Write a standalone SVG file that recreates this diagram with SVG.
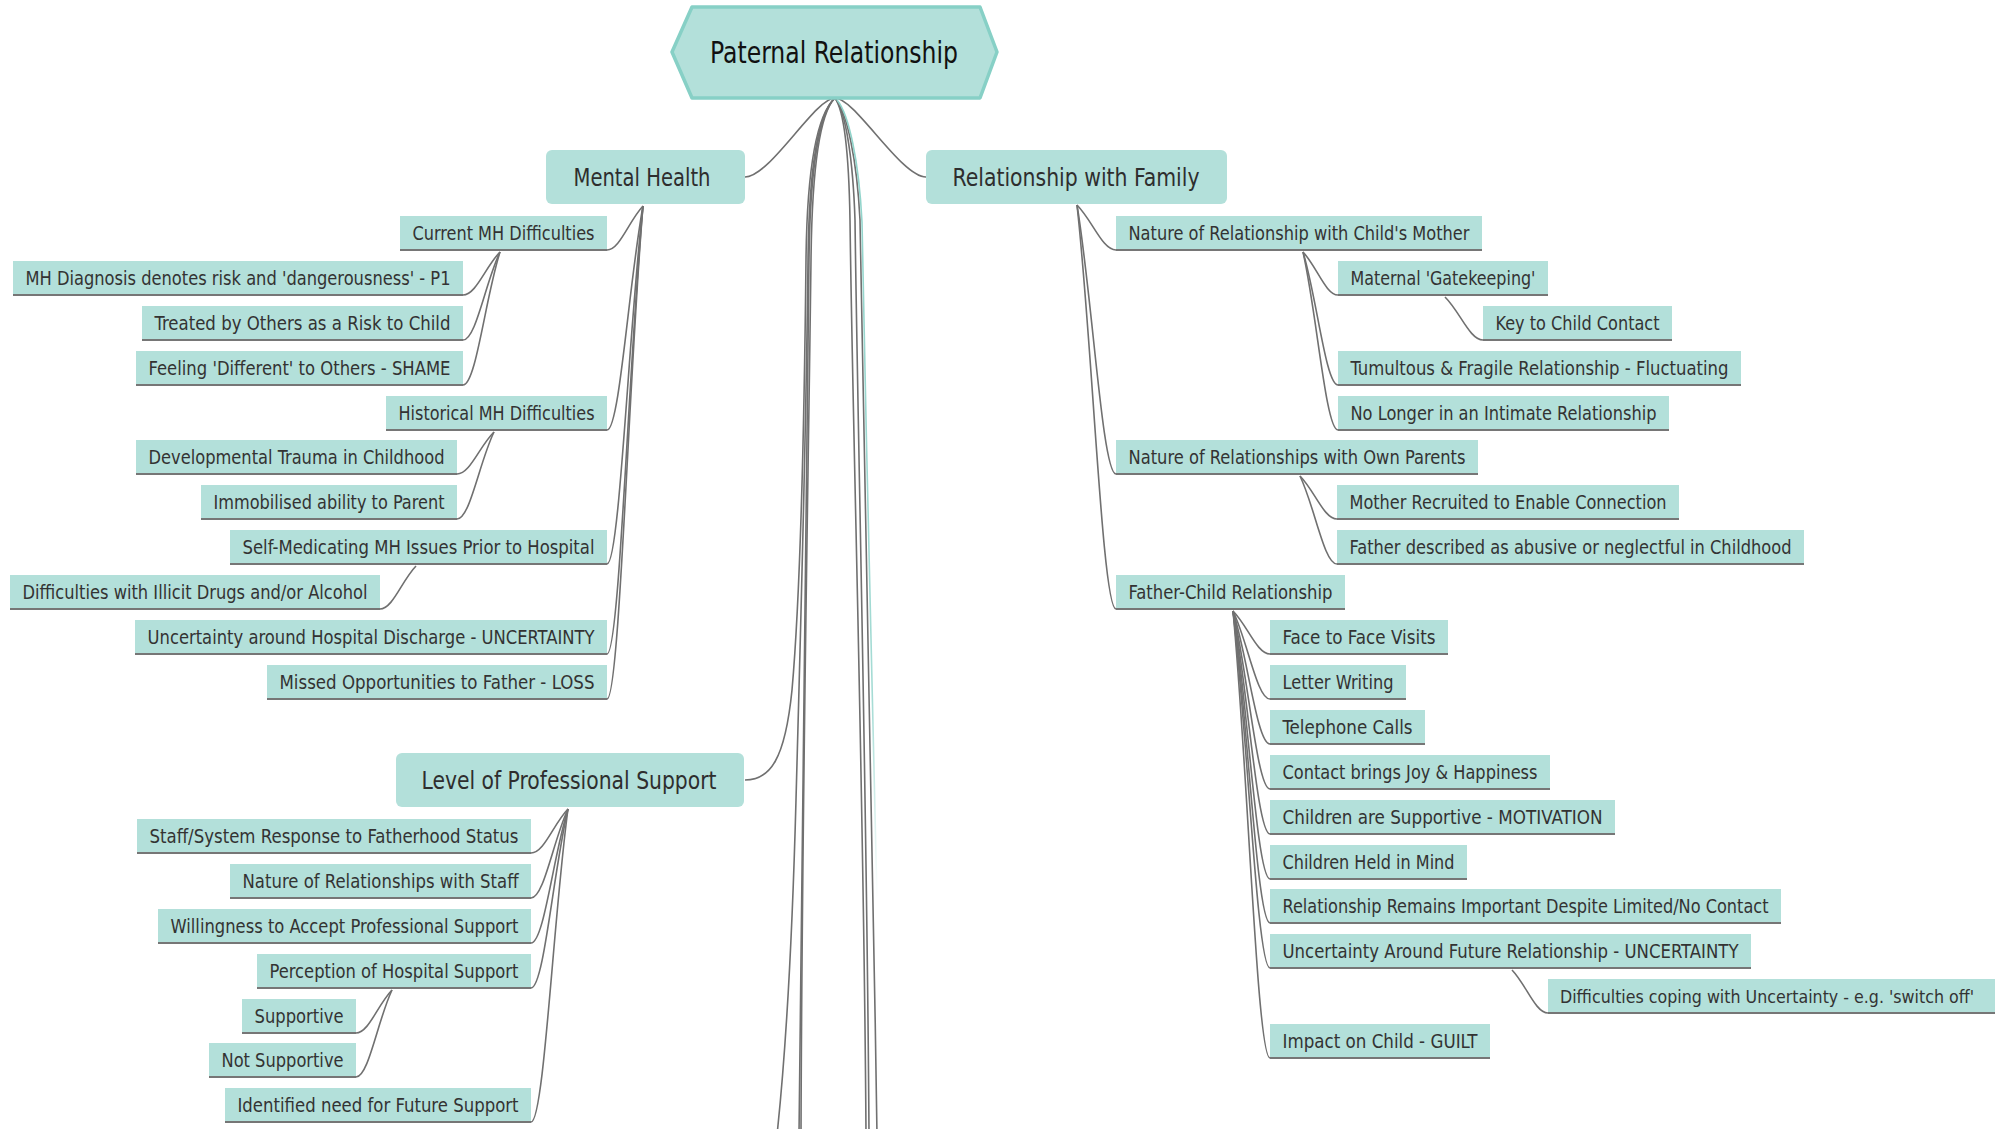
<svg xmlns="http://www.w3.org/2000/svg" width="1995" height="1129" viewBox="0 0 1995 1129">
<defs>
<style>
.bx{fill:#b3e0da}
.ul{stroke:#767676;stroke-width:2}
.t{font-family:"DejaVu Sans Condensed","DejaVu Sans",sans-serif;font-size:19px;fill:#333333;text-anchor:middle}
.t1{font-family:"DejaVu Sans Condensed","DejaVu Sans",sans-serif;font-size:25px;fill:#2e2e2e;text-anchor:middle}
.t0{font-family:"DejaVu Sans Condensed","DejaVu Sans",sans-serif;font-size:30px;fill:#111111;text-anchor:middle}
#connectors path{fill:none;stroke:#707070;stroke-width:1.6}
</style>
<linearGradient id="tealfade" gradientUnits="userSpaceOnUse" x1="0" y1="100" x2="0" y2="900">
<stop offset="0" stop-color="#8fd3ca" stop-opacity="1"/>
<stop offset="0.75" stop-color="#8fd3ca" stop-opacity="0.8"/>
<stop offset="1" stop-color="#8fd3ca" stop-opacity="0"/>
</linearGradient>
</defs>
<rect width="1995" height="1129" fill="#ffffff"/>

<g id="connectors">
<!-- root to first level -->
<path d="M835,98 C815,98 770,177 745,177"/>
<path d="M835,98 C855,98 901,177 926,177"/>
<path d="M835,98 C816,115 807,170 806,260 C804,450 800,600 792,690 C785,760 770,780 745,780"/>
<!-- bundle continuing off the bottom -->
<path d="M835,98 C818,113 809,170 808,260 C806,450 800,650 796,800 C792,950 785,1060 777,1135"/>
<path d="M835,98 C819,113 810,170 809,260 C806,500 801,800 799,1135"/>
<path d="M835,98 C820,113 812,170 811,260 C808,500 802,800 801,1135"/>
<path d="M835,98 C845,112 849,160 850,220 C853,450 864,800 866,1135"/>
<path d="M835,98 C846,112 853,160 855,220 C858,450 867,800 869,1135"/>
<path d="M835,98 C847,112 857,160 860,220 C864,450 872,800 877,1135"/>
<path d="M837,100 C849,114 859,162 862,222 C866,450 873,700 877,900" style="stroke:url(#tealfade);stroke-width:1.6"/>
<!-- Mental Health children -->
<path d="M643,206 C628.6,221.4 619.6,250 607,250"/>
<path d="M643,206 C628.6,284.4 619.6,430 607,430"/>
<path d="M643,206 C628.6,331.3 619.6,564 607,564"/>
<path d="M643,206 C628.6,362.8 619.6,654 607,654"/>
<path d="M643,206 C628.6,378.6 619.6,699 607,699"/>
<!-- Current MH children -->
<path d="M500,252 C485.2,267.1 476,295 463,295"/>
<path d="M500,252 C485.2,282.8 476,340 463,340"/>
<path d="M500,252 C485.2,298.6 476,385 463,385"/>
<!-- Historical MH children -->
<path d="M494,432 C479.2,446.7 470,474 457,474"/>
<path d="M494,432 C479.2,462.5 470,519 457,519"/>
<!-- Self-Medicating child -->
<path d="M416,566 C401.6,581 392.6,609 380,609"/>
<!-- Relationship with Family children -->
<path d="M1077,205 C1092.6,220.8 1102.4,250 1116,250"/>
<path d="M1077,205 C1092.6,299.2 1102.4,474 1116,474"/>
<path d="M1077,205 C1092.6,346.4 1102.4,609 1116,609"/>
<!-- Nature of Relationship with Child's Mother children -->
<path d="M1303,252 C1317,267 1325.8,295 1338,295"/>
<path d="M1303,252 C1317,298.6 1325.8,385 1338,385"/>
<path d="M1303,252 C1317,314.3 1325.8,430 1338,430"/>
<path d="M1445,297 C1460.2,312 1469.7,340 1483,340"/>
<!-- Own Parents children -->
<path d="M1300,476 C1314.8,491 1324,519 1337,519"/>
<path d="M1300,476 C1314.8,506.8 1324,564 1337,564"/>
<!-- Father-Child children -->
<path d="M1233,611 C1247.8,626 1257,654 1270,654"/>
<path d="M1233,611 C1247.8,641.8 1257,699 1270,699"/>
<path d="M1233,611 C1247.8,657.6 1257,744 1270,744"/>
<path d="M1233,611 C1247.8,673.3 1257,789 1270,789"/>
<path d="M1233,611 C1247.8,689 1257,834 1270,834"/>
<path d="M1233,611 C1247.8,704.8 1257,879 1270,879"/>
<path d="M1233,611 C1247.8,720.2 1257,923 1270,923"/>
<path d="M1233,611 C1247.8,736 1257,968 1270,968"/>
<path d="M1233,611 C1247.8,767.5 1257,1058 1270,1058"/>
<path d="M1512,970 C1526.4,985 1535.4,1013 1548,1013"/>
<!-- Level of Professional Support children -->
<path d="M568,809 C553.2,824.4 544,853 531,853"/>
<path d="M568,809 C553.2,840.2 544,898 531,898"/>
<path d="M568,809 C553.2,855.9 544,943 531,943"/>
<path d="M568,809 C553.2,871.7 544,988 531,988"/>
<path d="M568,809 C553.2,918.6 544,1122 531,1122"/>
<path d="M392,990 C377.6,1005 368.6,1033 356,1033"/>
<path d="M392,990 C377.6,1020.5 368.6,1077 356,1077"/>
</g>

<g id="root">
<polygon points="672,52 692,7 980,7 997,52 980,98 692,98" fill="#b3e0da" stroke="#87d0c6" stroke-width="3.5" stroke-linejoin="round"/>
<text class="t0" x="834" y="63" textLength="248" lengthAdjust="spacingAndGlyphs">Paternal Relationship</text>
</g>

<g id="mental-health">
<rect class="bx" x="546" y="150" width="199" height="54" rx="6"/>
<text class="t1" x="642" y="186" textLength="137" lengthAdjust="spacingAndGlyphs">Mental Health</text>
</g>
<g id="relationship-family">
<rect class="bx" x="926" y="150" width="301" height="54" rx="6"/>
<text class="t1" x="1076" y="186" textLength="247" lengthAdjust="spacingAndGlyphs">Relationship with Family</text>
</g>
<g id="professional-support">
<rect class="bx" x="396" y="753" width="348" height="54" rx="6"/>
<text class="t1" x="569" y="789" textLength="295" lengthAdjust="spacingAndGlyphs">Level of Professional Support</text>
</g>

<!-- Mental Health subtree -->
<g id="n-cm"><rect class="bx" x="400" y="216" width="207" height="34"/><line class="ul" x1="400" y1="250" x2="607" y2="250"/><text class="t" x="503.5" y="240" textLength="182" lengthAdjust="spacingAndGlyphs">Current MH Difficulties</text></g>
<g id="n-md"><rect class="bx" x="13" y="261" width="450" height="34"/><line class="ul" x1="13" y1="295" x2="463" y2="295"/><text class="t" x="238" y="285" textLength="425" lengthAdjust="spacingAndGlyphs">MH Diagnosis denotes risk and 'dangerousness' - P1</text></g>
<g id="n-tr"><rect class="bx" x="142" y="306" width="321" height="34"/><line class="ul" x1="142" y1="340" x2="463" y2="340"/><text class="t" x="302.5" y="330" textLength="296" lengthAdjust="spacingAndGlyphs">Treated by Others as a Risk to Child</text></g>
<g id="n-fd"><rect class="bx" x="136" y="351" width="327" height="34"/><line class="ul" x1="136" y1="385" x2="463" y2="385"/><text class="t" x="299.5" y="375" textLength="302" lengthAdjust="spacingAndGlyphs">Feeling 'Different' to Others - SHAME</text></g>
<g id="n-hm"><rect class="bx" x="386" y="396" width="221" height="34"/><line class="ul" x1="386" y1="430" x2="607" y2="430"/><text class="t" x="496.5" y="420" textLength="196" lengthAdjust="spacingAndGlyphs">Historical MH Difficulties</text></g>
<g id="n-dt"><rect class="bx" x="136" y="440" width="321" height="34"/><line class="ul" x1="136" y1="474" x2="457" y2="474"/><text class="t" x="296.5" y="464" textLength="296" lengthAdjust="spacingAndGlyphs">Developmental Trauma in Childhood</text></g>
<g id="n-ia"><rect class="bx" x="201" y="485" width="256" height="34"/><line class="ul" x1="201" y1="519" x2="457" y2="519"/><text class="t" x="329" y="509" textLength="231" lengthAdjust="spacingAndGlyphs">Immobilised ability to Parent</text></g>
<g id="n-sm"><rect class="bx" x="230" y="530" width="377" height="34"/><line class="ul" x1="230" y1="564" x2="607" y2="564"/><text class="t" x="418.5" y="554" textLength="352" lengthAdjust="spacingAndGlyphs">Self-Medicating MH Issues Prior to Hospital</text></g>
<g id="n-di"><rect class="bx" x="10" y="575" width="370" height="34"/><line class="ul" x1="10" y1="609" x2="380" y2="609"/><text class="t" x="195" y="599" textLength="345" lengthAdjust="spacingAndGlyphs">Difficulties with Illicit Drugs and/or Alcohol</text></g>
<g id="n-uh"><rect class="bx" x="135" y="620" width="472" height="34"/><line class="ul" x1="135" y1="654" x2="607" y2="654"/><text class="t" x="371" y="644" textLength="447" lengthAdjust="spacingAndGlyphs">Uncertainty around Hospital Discharge - UNCERTAINTY</text></g>
<g id="n-mo"><rect class="bx" x="267" y="665" width="340" height="34"/><line class="ul" x1="267" y1="699" x2="607" y2="699"/><text class="t" x="437" y="689" textLength="315" lengthAdjust="spacingAndGlyphs">Missed Opportunities to Father - LOSS</text></g>

<!-- Relationship with Family subtree -->
<g id="n-nm"><rect class="bx" x="1116" y="216" width="366" height="34"/><line class="ul" x1="1116" y1="250" x2="1482" y2="250"/><text class="t" x="1299" y="240" textLength="341" lengthAdjust="spacingAndGlyphs">Nature of Relationship with Child's Mother</text></g>
<g id="n-mg"><rect class="bx" x="1338" y="261" width="210" height="34"/><line class="ul" x1="1338" y1="295" x2="1548" y2="295"/><text class="t" x="1443" y="285" textLength="185" lengthAdjust="spacingAndGlyphs">Maternal 'Gatekeeping'</text></g>
<g id="n-kc"><rect class="bx" x="1483" y="306" width="189" height="34"/><line class="ul" x1="1483" y1="340" x2="1672" y2="340"/><text class="t" x="1577.5" y="330" textLength="164" lengthAdjust="spacingAndGlyphs">Key to Child Contact</text></g>
<g id="n-tf"><rect class="bx" x="1338" y="351" width="403" height="34"/><line class="ul" x1="1338" y1="385" x2="1741" y2="385"/><text class="t" x="1539.5" y="375" textLength="378" lengthAdjust="spacingAndGlyphs">Tumultous &amp; Fragile Relationship - Fluctuating</text></g>
<g id="n-nl"><rect class="bx" x="1338" y="396" width="331" height="34"/><line class="ul" x1="1338" y1="430" x2="1669" y2="430"/><text class="t" x="1503.5" y="420" textLength="306" lengthAdjust="spacingAndGlyphs">No Longer in an Intimate Relationship</text></g>
<g id="n-np"><rect class="bx" x="1116" y="440" width="362" height="34"/><line class="ul" x1="1116" y1="474" x2="1478" y2="474"/><text class="t" x="1297" y="464" textLength="337" lengthAdjust="spacingAndGlyphs">Nature of Relationships with Own Parents</text></g>
<g id="n-mr"><rect class="bx" x="1337" y="485" width="342" height="34"/><line class="ul" x1="1337" y1="519" x2="1679" y2="519"/><text class="t" x="1508" y="509" textLength="317" lengthAdjust="spacingAndGlyphs">Mother Recruited to Enable Connection</text></g>
<g id="n-fa"><rect class="bx" x="1337" y="530" width="467" height="34"/><line class="ul" x1="1337" y1="564" x2="1804" y2="564"/><text class="t" x="1570.5" y="554" textLength="442" lengthAdjust="spacingAndGlyphs">Father described as abusive or neglectful in Childhood</text></g>
<g id="n-fc"><rect class="bx" x="1116" y="575" width="229" height="34"/><line class="ul" x1="1116" y1="609" x2="1345" y2="609"/><text class="t" x="1230.5" y="599" textLength="204" lengthAdjust="spacingAndGlyphs">Father-Child Relationship</text></g>
<g id="n-ff"><rect class="bx" x="1270" y="620" width="178" height="34"/><line class="ul" x1="1270" y1="654" x2="1448" y2="654"/><text class="t" x="1359" y="644" textLength="153" lengthAdjust="spacingAndGlyphs">Face to Face Visits</text></g>
<g id="n-lw"><rect class="bx" x="1270" y="665" width="136" height="34"/><line class="ul" x1="1270" y1="699" x2="1406" y2="699"/><text class="t" x="1338" y="689" textLength="111" lengthAdjust="spacingAndGlyphs">Letter Writing</text></g>
<g id="n-tc"><rect class="bx" x="1270" y="710" width="155" height="34"/><line class="ul" x1="1270" y1="744" x2="1425" y2="744"/><text class="t" x="1347.5" y="734" textLength="130" lengthAdjust="spacingAndGlyphs">Telephone Calls</text></g>
<g id="n-cj"><rect class="bx" x="1270" y="755" width="280" height="34"/><line class="ul" x1="1270" y1="789" x2="1550" y2="789"/><text class="t" x="1410" y="779" textLength="255" lengthAdjust="spacingAndGlyphs">Contact brings Joy &amp; Happiness</text></g>
<g id="n-cs"><rect class="bx" x="1270" y="800" width="345" height="34"/><line class="ul" x1="1270" y1="834" x2="1615" y2="834"/><text class="t" x="1442.5" y="824" textLength="320" lengthAdjust="spacingAndGlyphs">Children are Supportive - MOTIVATION</text></g>
<g id="n-ch"><rect class="bx" x="1270" y="845" width="197" height="34"/><line class="ul" x1="1270" y1="879" x2="1467" y2="879"/><text class="t" x="1368.5" y="869" textLength="172" lengthAdjust="spacingAndGlyphs">Children Held in Mind</text></g>
<g id="n-rr"><rect class="bx" x="1270" y="889" width="511" height="34"/><line class="ul" x1="1270" y1="923" x2="1781" y2="923"/><text class="t" x="1525.5" y="913" textLength="486" lengthAdjust="spacingAndGlyphs">Relationship Remains Important Despite Limited/No Contact</text></g>
<g id="n-ua"><rect class="bx" x="1270" y="934" width="481" height="34"/><line class="ul" x1="1270" y1="968" x2="1751" y2="968"/><text class="t" x="1510.5" y="958" textLength="456" lengthAdjust="spacingAndGlyphs">Uncertainty Around Future Relationship - UNCERTAINTY</text></g>
<g id="n-dc"><rect class="bx" x="1548" y="979" width="447" height="34"/><line class="ul" x1="1548" y1="1013" x2="1995" y2="1013"/><text class="t" x="1767" y="1003" textLength="414" lengthAdjust="spacingAndGlyphs" style="font-size:17px">Difficulties coping with Uncertainty - e.g. 'switch off'</text></g>
<g id="n-ic"><rect class="bx" x="1270" y="1024" width="220" height="34"/><line class="ul" x1="1270" y1="1058" x2="1490" y2="1058"/><text class="t" x="1380" y="1048" textLength="195" lengthAdjust="spacingAndGlyphs">Impact on Child - GUILT</text></g>

<!-- Level of Professional Support subtree -->
<g id="n-ss"><rect class="bx" x="137" y="819" width="394" height="34"/><line class="ul" x1="137" y1="853" x2="531" y2="853"/><text class="t" x="334" y="843" textLength="369" lengthAdjust="spacingAndGlyphs">Staff/System Response to Fatherhood Status</text></g>
<g id="n-ns"><rect class="bx" x="230" y="864" width="301" height="34"/><line class="ul" x1="230" y1="898" x2="531" y2="898"/><text class="t" x="380.5" y="888" textLength="276" lengthAdjust="spacingAndGlyphs">Nature of Relationships with Staff</text></g>
<g id="n-wa"><rect class="bx" x="158" y="909" width="373" height="34"/><line class="ul" x1="158" y1="943" x2="531" y2="943"/><text class="t" x="344.5" y="933" textLength="348" lengthAdjust="spacingAndGlyphs">Willingness to Accept Professional Support</text></g>
<g id="n-ph"><rect class="bx" x="257" y="954" width="274" height="34"/><line class="ul" x1="257" y1="988" x2="531" y2="988"/><text class="t" x="394" y="978" textLength="249" lengthAdjust="spacingAndGlyphs">Perception of Hospital Support</text></g>
<g id="n-su"><rect class="bx" x="242" y="999" width="114" height="34"/><line class="ul" x1="242" y1="1033" x2="356" y2="1033"/><text class="t" x="299" y="1023" textLength="89" lengthAdjust="spacingAndGlyphs">Supportive</text></g>
<g id="n-nsu"><rect class="bx" x="209" y="1043" width="147" height="34"/><line class="ul" x1="209" y1="1077" x2="356" y2="1077"/><text class="t" x="282.5" y="1067" textLength="122" lengthAdjust="spacingAndGlyphs">Not Supportive</text></g>
<g id="n-if"><rect class="bx" x="225" y="1088" width="306" height="34"/><line class="ul" x1="225" y1="1122" x2="531" y2="1122"/><text class="t" x="378" y="1112" textLength="281" lengthAdjust="spacingAndGlyphs">Identified need for Future Support</text></g>
</svg>
